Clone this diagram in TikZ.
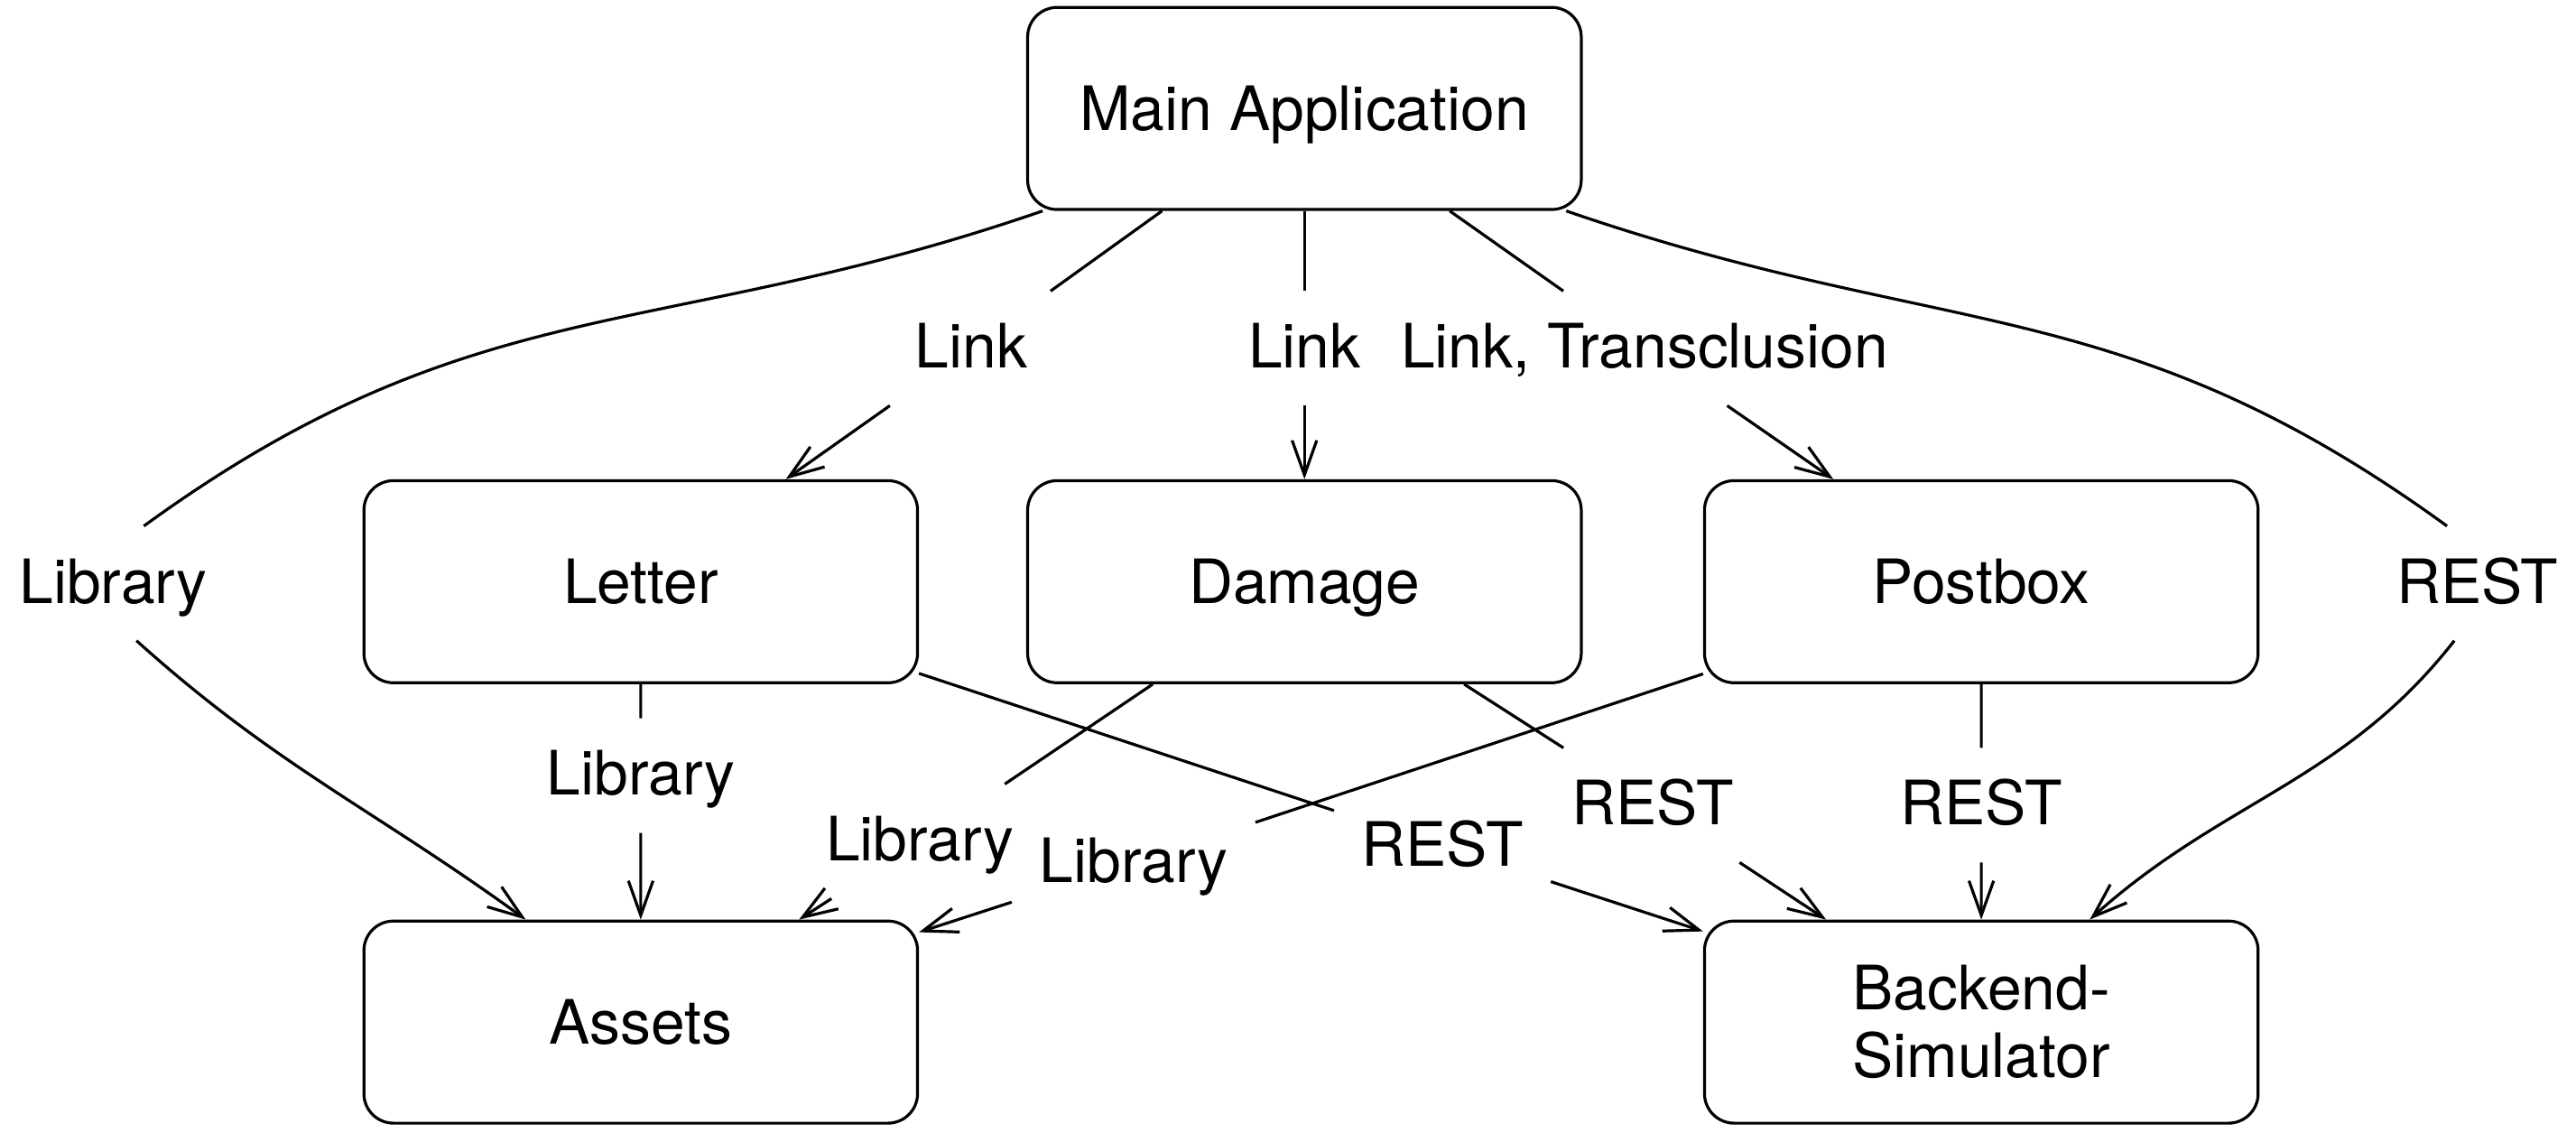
\documentclass[tikz,border=0pt]{standalone}
\usepackage{fontspec}
\setmainfont{TeX Gyre Heros}
\usepackage{tikz}
\usetikzlibrary{arrows.meta, positioning}

\begin{document}
\begin{tikzpicture}[node distance=3cm,on grid,line width=0.5pt,
    >={Straight Barb[length=2.1mm,width=1.5mm]},
    font=\fontsize{10.6pt}{11.7pt}\selectfont]
    \tikzstyle{box}=[shape=rectangle,rounded corners=0.18cm,draw,minimum width=3.37cm,minimum height=1.23cm,align=center,text height=0.268cm,text depth=0cm]
    \tikzstyle{lbl}=[inner sep=0.16cm,text height=0.30cm,text depth=0.06cm]

    \useasboundingbox (0,0) rectangle (15.68,6.89);

    \node[box] (main) at (7.94,6.23) {Main Application};
    \node[box, below left=2.88cm and 4.04cm of main] (letter) {Letter};
    \node[box, below=2.88cm of main] (damage) {Damage};
    \node[box, below right=2.88cm and 4.12cm of main] (postbox) {Postbox};
    \node[box, below=2.68cm of letter] (assets) {Assets};
    \node[box, text height=, text depth=, below=2.68cm of postbox] (backend) {Backend-\\Simulator};

    % edge labels
    \node[lbl] (lnkL) at (5.91,4.77) {Link};
    \node[lbl] (lnkM) at (7.94,4.77) {Link};
    \node[lbl] (lnkR) at (10.01,4.77) {Link, Transclusion};
    \node[lbl] (libL) at (0.69,3.34) {Library};
    \node[lbl] (restR) at (15.08,3.34) {REST};
    \node[lbl] (libLet) at (3.90,2.17) {Library};
    \node[lbl] (libDam) at (5.60,1.77) {Library};
    \node[lbl] (libPost) at (6.90,1.64) {Library};
    \node[lbl] (restLet) at (8.78,1.74) {REST};
    \node[lbl] (restDam) at (10.06,1.99) {REST};
    \node[lbl] (restPost) at (12.06,1.99) {REST};

    \path[draw]
    (main) edge (lnkL)
    (main) edge (lnkM)
    (main) edge (lnkR)
    (letter) edge (libLet)
    (letter) edge (restLet)
    (damage) edge (libDam)
    (damage) edge (restDam)
    (postbox) edge (libPost)
    (postbox) edge (restPost)
    ;

    \path[->,draw]
    (lnkL) edge (letter)
    (lnkM) edge (damage)
    (lnkR) edge (postbox)
    (libLet) edge (assets)
    (libDam) edge (assets)
    (libPost) edge (assets)
    (restLet) edge (backend)
    (restDam) edge (backend)
    (restPost) edge (backend)
    ;

    \draw ([xshift=.1cm]main.south west) to[out=199,in=36,looseness=1.1] (libL.62);
    \draw[->] (libL.-68) to[out=-42,in=144] ([xshift=-.7cm]assets.north);
    \draw ([xshift=-.1cm]main.south east) to[out=-19,in=144,looseness=1.1] (restR.118);
    \draw[->] (restR.-112) to[out=232,in=42] ([xshift=.66cm]backend.north);

\end{tikzpicture}
\end{document}
